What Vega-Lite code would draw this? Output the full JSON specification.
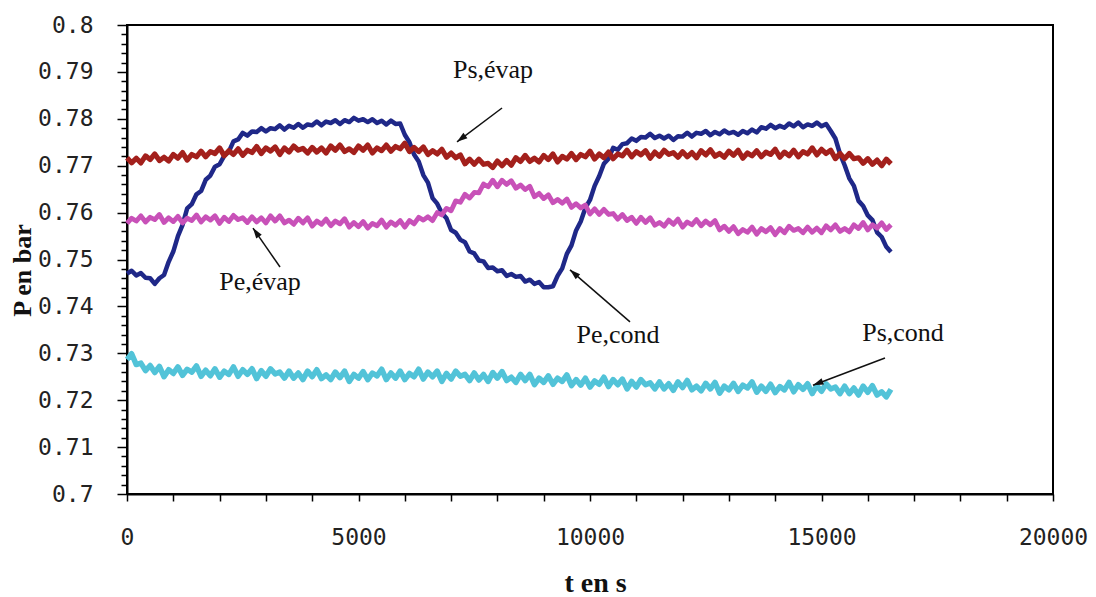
{
"$schema": "https://vega.github.io/schema/vega-lite/v6.json",
"width": 926,
"height": 469,
"autosize": {"type": "none"},
"padding": {"left": 127, "top": 25, "right": 43, "bottom": 103},
"background": "white",
"config": {"view": {"stroke": "#000", "strokeWidth": 2}},
"datasets": {
"series": [
{"t":0,"PeC":0.7470,"PeE":0.7577,"PsE":0.7717,"PsC":0.7287},
{"t":100,"PeC":0.7476,"PeE":0.7588,"PsE":0.7706,"PsC":0.7299},
{"t":200,"PeC":0.7466,"PeE":0.7582,"PsE":0.7716,"PsC":0.7276},
{"t":300,"PeC":0.7471,"PeE":0.7593,"PsE":0.7706,"PsC":0.7279},
{"t":400,"PeC":0.7461,"PeE":0.7580,"PsE":0.7721,"PsC":0.7263},
{"t":500,"PeC":0.7460,"PeE":0.7590,"PsE":0.7713,"PsC":0.7274},
{"t":600,"PeC":0.7448,"PeE":0.7585,"PsE":0.7725,"PsC":0.7259},
{"t":700,"PeC":0.7460,"PeE":0.7596,"PsE":0.7711,"PsC":0.7272},
{"t":800,"PeC":0.7467,"PeE":0.7579,"PsE":0.7718,"PsC":0.7250},
{"t":900,"PeC":0.7495,"PeE":0.7589,"PsE":0.7710,"PsC":0.7265},
{"t":1000,"PeC":0.7517,"PeE":0.7581,"PsE":0.7724,"PsC":0.7257},
{"t":1100,"PeC":0.7550,"PeE":0.7592,"PsE":0.7716,"PsC":0.7271},
{"t":1200,"PeC":0.7574,"PeE":0.7578,"PsE":0.7728,"PsC":0.7253},
{"t":1300,"PeC":0.7609,"PeE":0.7588,"PsE":0.7712,"PsC":0.7266},
{"t":1400,"PeC":0.7618,"PeE":0.7583,"PsE":0.7724,"PsC":0.7260},
{"t":1500,"PeC":0.7639,"PeE":0.7595,"PsE":0.7719,"PsC":0.7273},
{"t":1600,"PeC":0.7646,"PeE":0.7580,"PsE":0.7731,"PsC":0.7251},
{"t":1700,"PeC":0.7670,"PeE":0.7591,"PsE":0.7719,"PsC":0.7264},
{"t":1800,"PeC":0.7679,"PeE":0.7584,"PsE":0.7730,"PsC":0.7252},
{"t":1900,"PeC":0.7698,"PeE":0.7593,"PsE":0.7726,"PsC":0.7267},
{"t":2000,"PeC":0.7703,"PeE":0.7577,"PsE":0.7738,"PsC":0.7249},
{"t":2100,"PeC":0.7721,"PeE":0.7590,"PsE":0.7721,"PsC":0.7262},
{"t":2200,"PeC":0.7730,"PeE":0.7581,"PsE":0.7732,"PsC":0.7255},
{"t":2300,"PeC":0.7752,"PeE":0.7594,"PsE":0.7724,"PsC":0.7271},
{"t":2400,"PeC":0.7756,"PeE":0.7585,"PsE":0.7736,"PsC":0.7251},
{"t":2500,"PeC":0.7770,"PeE":0.7589,"PsE":0.7722,"PsC":0.7265},
{"t":2600,"PeC":0.7764,"PeE":0.7579,"PsE":0.7733,"PsC":0.7255},
{"t":2700,"PeC":0.7773,"PeE":0.7591,"PsE":0.7728,"PsC":0.7267},
{"t":2800,"PeC":0.7772,"PeE":0.7580,"PsE":0.7741,"PsC":0.7246},
{"t":2900,"PeC":0.7780,"PeE":0.7589,"PsE":0.7726,"PsC":0.7263},
{"t":3000,"PeC":0.7773,"PeE":0.7578,"PsE":0.7738,"PsC":0.7251},
{"t":3100,"PeC":0.7780,"PeE":0.7593,"PsE":0.7731,"PsC":0.7267},
{"t":3200,"PeC":0.7778,"PeE":0.7582,"PsE":0.7740,"PsC":0.7256},
{"t":3300,"PeC":0.7786,"PeE":0.7593,"PsE":0.7724,"PsC":0.7260},
{"t":3400,"PeC":0.7777,"PeE":0.7578,"PsE":0.7738,"PsC":0.7247},
{"t":3500,"PeC":0.7785,"PeE":0.7584,"PsE":0.7729,"PsC":0.7262},
{"t":3600,"PeC":0.7781,"PeE":0.7575,"PsE":0.7742,"PsC":0.7247},
{"t":3700,"PeC":0.7789,"PeE":0.7588,"PsE":0.7733,"PsC":0.7258},
{"t":3800,"PeC":0.7781,"PeE":0.7578,"PsE":0.7737,"PsC":0.7244},
{"t":3900,"PeC":0.7788,"PeE":0.7589,"PsE":0.7727,"PsC":0.7262},
{"t":4000,"PeC":0.7786,"PeE":0.7571,"PsE":0.7739,"PsC":0.7250},
{"t":4100,"PeC":0.7794,"PeE":0.7582,"PsE":0.7729,"PsC":0.7265},
{"t":4200,"PeC":0.7786,"PeE":0.7575,"PsE":0.7738,"PsC":0.7246},
{"t":4300,"PeC":0.7794,"PeE":0.7586,"PsE":0.7727,"PsC":0.7254},
{"t":4400,"PeC":0.7791,"PeE":0.7572,"PsE":0.7742,"PsC":0.7244},
{"t":4500,"PeC":0.7797,"PeE":0.7582,"PsE":0.7733,"PsC":0.7260},
{"t":4600,"PeC":0.7789,"PeE":0.7576,"PsE":0.7744,"PsC":0.7248},
{"t":4700,"PeC":0.7797,"PeE":0.7587,"PsE":0.7730,"PsC":0.7262},
{"t":4800,"PeC":0.7793,"PeE":0.7569,"PsE":0.7736,"PsC":0.7240},
{"t":4900,"PeC":0.7802,"PeE":0.7579,"PsE":0.7728,"PsC":0.7255},
{"t":5000,"PeC":0.7796,"PeE":0.7570,"PsE":0.7742,"PsC":0.7247},
{"t":5100,"PeC":0.7799,"PeE":0.7581,"PsE":0.7733,"PsC":0.7261},
{"t":5200,"PeC":0.7793,"PeE":0.7567,"PsE":0.7744,"PsC":0.7244},
{"t":5300,"PeC":0.7799,"PeE":0.7577,"PsE":0.7727,"PsC":0.7258},
{"t":5400,"PeC":0.7791,"PeE":0.7572,"PsE":0.7738,"PsC":0.7252},
{"t":5500,"PeC":0.7796,"PeE":0.7584,"PsE":0.7732,"PsC":0.7266},
{"t":5600,"PeC":0.7788,"PeE":0.7569,"PsE":0.7744,"PsC":0.7244},
{"t":5700,"PeC":0.7796,"PeE":0.7580,"PsE":0.7731,"PsC":0.7258},
{"t":5800,"PeC":0.7789,"PeE":0.7573,"PsE":0.7741,"PsC":0.7247},
{"t":5900,"PeC":0.7790,"PeE":0.7583,"PsE":0.7736,"PsC":0.7262},
{"t":6000,"PeC":0.7766,"PeE":0.7569,"PsE":0.7748,"PsC":0.7244},
{"t":6100,"PeC":0.7750,"PeE":0.7583,"PsE":0.7730,"PsC":0.7257},
{"t":6200,"PeC":0.7724,"PeE":0.7576,"PsE":0.7739,"PsC":0.7250},
{"t":6300,"PeC":0.7709,"PeE":0.7590,"PsE":0.7730,"PsC":0.7266},
{"t":6400,"PeC":0.7680,"PeE":0.7584,"PsE":0.7740,"PsC":0.7245},
{"t":6500,"PeC":0.7664,"PeE":0.7591,"PsE":0.7724,"PsC":0.7260},
{"t":6600,"PeC":0.7631,"PeE":0.7583,"PsE":0.7732,"PsC":0.7250},
{"t":6700,"PeC":0.7619,"PeE":0.7600,"PsE":0.7725,"PsC":0.7262},
{"t":6800,"PeC":0.7599,"PeE":0.7595,"PsE":0.7735,"PsC":0.7240},
{"t":6900,"PeC":0.7588,"PeE":0.7609,"PsE":0.7718,"PsC":0.7257},
{"t":7000,"PeC":0.7563,"PeE":0.7604,"PsE":0.7727,"PsC":0.7245},
{"t":7100,"PeC":0.7557,"PeE":0.7625,"PsE":0.7717,"PsC":0.7262},
{"t":7200,"PeC":0.7542,"PeE":0.7622,"PsE":0.7723,"PsC":0.7251},
{"t":7300,"PeC":0.7537,"PeE":0.7639,"PsE":0.7704,"PsC":0.7255},
{"t":7400,"PeC":0.7517,"PeE":0.7631,"PsE":0.7714,"PsC":0.7242},
{"t":7500,"PeC":0.7513,"PeE":0.7643,"PsE":0.7703,"PsC":0.7258},
{"t":7600,"PeC":0.7498,"PeE":0.7642,"PsE":0.7714,"PsC":0.7243},
{"t":7700,"PeC":0.7496,"PeE":0.7661,"PsE":0.7703,"PsC":0.7255},
{"t":7800,"PeC":0.7482,"PeE":0.7655,"PsE":0.7705,"PsC":0.7240},
{"t":7900,"PeC":0.7483,"PeE":0.7669,"PsE":0.7696,"PsC":0.7259},
{"t":8000,"PeC":0.7475,"PeE":0.7655,"PsE":0.7710,"PsC":0.7247},
{"t":8100,"PeC":0.7477,"PeE":0.7669,"PsE":0.7700,"PsC":0.7261},
{"t":8200,"PeC":0.7465,"PeE":0.7660,"PsE":0.7711,"PsC":0.7242},
{"t":8300,"PeC":0.7469,"PeE":0.7668,"PsE":0.7701,"PsC":0.7249},
{"t":8400,"PeC":0.7463,"PeE":0.7652,"PsE":0.7717,"PsC":0.7238},
{"t":8500,"PeC":0.7465,"PeE":0.7659,"PsE":0.7709,"PsC":0.7255},
{"t":8600,"PeC":0.7453,"PeE":0.7649,"PsE":0.7722,"PsC":0.7242},
{"t":8700,"PeC":0.7457,"PeE":0.7656,"PsE":0.7709,"PsC":0.7255},
{"t":8800,"PeC":0.7448,"PeE":0.7634,"PsE":0.7716,"PsC":0.7233},
{"t":8900,"PeC":0.7452,"PeE":0.7641,"PsE":0.7708,"PsC":0.7247},
{"t":9000,"PeC":0.7441,"PeE":0.7630,"PsE":0.7722,"PsC":0.7238},
{"t":9100,"PeC":0.7441,"PeE":0.7638,"PsE":0.7713,"PsC":0.7252},
{"t":9200,"PeC":0.7443,"PeE":0.7621,"PsE":0.7725,"PsC":0.7234},
{"t":9300,"PeC":0.7465,"PeE":0.7628,"PsE":0.7708,"PsC":0.7247},
{"t":9400,"PeC":0.7481,"PeE":0.7620,"PsE":0.7720,"PsC":0.7240},
{"t":9500,"PeC":0.7512,"PeE":0.7629,"PsE":0.7714,"PsC":0.7254},
{"t":9600,"PeC":0.7530,"PeE":0.7611,"PsE":0.7726,"PsC":0.7231},
{"t":9700,"PeC":0.7562,"PeE":0.7619,"PsE":0.7713,"PsC":0.7244},
{"t":9800,"PeC":0.7581,"PeE":0.7610,"PsE":0.7724,"PsC":0.7232},
{"t":9900,"PeC":0.7610,"PeE":0.7616,"PsE":0.7719,"PsC":0.7247},
{"t":10000,"PeC":0.7627,"PeE":0.7597,"PsE":0.7731,"PsC":0.7228},
{"t":10100,"PeC":0.7657,"PeE":0.7608,"PsE":0.7714,"PsC":0.7241},
{"t":10200,"PeC":0.7678,"PeE":0.7596,"PsE":0.7725,"PsC":0.7234},
{"t":10300,"PeC":0.7704,"PeE":0.7607,"PsE":0.7717,"PsC":0.7249},
{"t":10400,"PeC":0.7715,"PeE":0.7596,"PsE":0.7729,"PsC":0.7229},
{"t":10500,"PeC":0.7738,"PeE":0.7598,"PsE":0.7715,"PsC":0.7244},
{"t":10600,"PeC":0.7734,"PeE":0.7586,"PsE":0.7725,"PsC":0.7233},
{"t":10700,"PeC":0.7746,"PeE":0.7596,"PsE":0.7721,"PsC":0.7245},
{"t":10800,"PeC":0.7748,"PeE":0.7583,"PsE":0.7733,"PsC":0.7224},
{"t":10900,"PeC":0.7758,"PeE":0.7590,"PsE":0.7719,"PsC":0.7240},
{"t":11000,"PeC":0.7753,"PeE":0.7577,"PsE":0.7730,"PsC":0.7228},
{"t":11100,"PeC":0.7761,"PeE":0.7590,"PsE":0.7723,"PsC":0.7244},
{"t":11200,"PeC":0.7760,"PeE":0.7579,"PsE":0.7732,"PsC":0.7233},
{"t":11300,"PeC":0.7768,"PeE":0.7589,"PsE":0.7716,"PsC":0.7237},
{"t":11400,"PeC":0.7759,"PeE":0.7573,"PsE":0.7729,"PsC":0.7224},
{"t":11500,"PeC":0.7764,"PeE":0.7579,"PsE":0.7720,"PsC":0.7239},
{"t":11600,"PeC":0.7758,"PeE":0.7571,"PsE":0.7733,"PsC":0.7224},
{"t":11700,"PeC":0.7764,"PeE":0.7584,"PsE":0.7724,"PsC":0.7235},
{"t":11800,"PeC":0.7755,"PeE":0.7575,"PsE":0.7728,"PsC":0.7221},
{"t":11900,"PeC":0.7763,"PeE":0.7586,"PsE":0.7718,"PsC":0.7239},
{"t":12000,"PeC":0.7762,"PeE":0.7569,"PsE":0.7730,"PsC":0.7227},
{"t":12100,"PeC":0.7770,"PeE":0.7580,"PsE":0.7719,"PsC":0.7242},
{"t":12200,"PeC":0.7762,"PeE":0.7574,"PsE":0.7728,"PsC":0.7222},
{"t":12300,"PeC":0.7770,"PeE":0.7585,"PsE":0.7717,"PsC":0.7230},
{"t":12400,"PeC":0.7768,"PeE":0.7572,"PsE":0.7732,"PsC":0.7220},
{"t":12500,"PeC":0.7774,"PeE":0.7582,"PsE":0.7723,"PsC":0.7236},
{"t":12600,"PeC":0.7765,"PeE":0.7574,"PsE":0.7734,"PsC":0.7224},
{"t":12700,"PeC":0.7772,"PeE":0.7583,"PsE":0.7720,"PsC":0.7238},
{"t":12800,"PeC":0.7767,"PeE":0.7563,"PsE":0.7726,"PsC":0.7215},
{"t":12900,"PeC":0.7775,"PeE":0.7571,"PsE":0.7718,"PsC":0.7230},
{"t":13000,"PeC":0.7769,"PeE":0.7560,"PsE":0.7731,"PsC":0.7222},
{"t":13100,"PeC":0.7772,"PeE":0.7570,"PsE":0.7722,"PsC":0.7236},
{"t":13200,"PeC":0.7766,"PeE":0.7555,"PsE":0.7733,"PsC":0.7219},
{"t":13300,"PeC":0.7774,"PeE":0.7564,"PsE":0.7716,"PsC":0.7232},
{"t":13400,"PeC":0.7769,"PeE":0.7558,"PsE":0.7727,"PsC":0.7226},
{"t":13500,"PeC":0.7777,"PeE":0.7569,"PsE":0.7721,"PsC":0.7239},
{"t":13600,"PeC":0.7771,"PeE":0.7554,"PsE":0.7732,"PsC":0.7217},
{"t":13700,"PeC":0.7782,"PeE":0.7566,"PsE":0.7719,"PsC":0.7230},
{"t":13800,"PeC":0.7779,"PeE":0.7559,"PsE":0.7729,"PsC":0.7219},
{"t":13900,"PeC":0.7787,"PeE":0.7568,"PsE":0.7724,"PsC":0.7234},
{"t":14000,"PeC":0.7780,"PeE":0.7553,"PsE":0.7735,"PsC":0.7216},
{"t":14100,"PeC":0.7785,"PeE":0.7566,"PsE":0.7718,"PsC":0.7229},
{"t":14200,"PeC":0.7781,"PeE":0.7557,"PsE":0.7729,"PsC":0.7222},
{"t":14300,"PeC":0.7790,"PeE":0.7571,"PsE":0.7721,"PsC":0.7238},
{"t":14400,"PeC":0.7784,"PeE":0.7562,"PsE":0.7733,"PsC":0.7218},
{"t":14500,"PeC":0.7792,"PeE":0.7566,"PsE":0.7719,"PsC":0.7233},
{"t":14600,"PeC":0.7782,"PeE":0.7557,"PsE":0.7730,"PsC":0.7223},
{"t":14700,"PeC":0.7788,"PeE":0.7569,"PsE":0.7725,"PsC":0.7235},
{"t":14800,"PeC":0.7785,"PeE":0.7558,"PsE":0.7738,"PsC":0.7214},
{"t":14900,"PeC":0.7792,"PeE":0.7567,"PsE":0.7723,"PsC":0.7231},
{"t":15000,"PeC":0.7784,"PeE":0.7557,"PsE":0.7735,"PsC":0.7219},
{"t":15100,"PeC":0.7789,"PeE":0.7572,"PsE":0.7726,"PsC":0.7235},
{"t":15200,"PeC":0.7774,"PeE":0.7563,"PsE":0.7733,"PsC":0.7224},
{"t":15300,"PeC":0.7758,"PeE":0.7574,"PsE":0.7715,"PsC":0.7228},
{"t":15400,"PeC":0.7725,"PeE":0.7560,"PsE":0.7726,"PsC":0.7214},
{"t":15500,"PeC":0.7701,"PeE":0.7566,"PsE":0.7715,"PsC":0.7230},
{"t":15600,"PeC":0.7673,"PeE":0.7559,"PsE":0.7726,"PsC":0.7214},
{"t":15700,"PeC":0.7657,"PeE":0.7574,"PsE":0.7715,"PsC":0.7226},
{"t":15800,"PeC":0.7625,"PeE":0.7566,"PsE":0.7717,"PsC":0.7211},
{"t":15900,"PeC":0.7614,"PeE":0.7579,"PsE":0.7705,"PsC":0.7230},
{"t":16000,"PeC":0.7594,"PeE":0.7563,"PsE":0.7715,"PsC":0.7217},
{"t":16100,"PeC":0.7584,"PeE":0.7574,"PsE":0.7703,"PsC":0.7231},
{"t":16200,"PeC":0.7558,"PeE":0.7567,"PsE":0.7712,"PsC":0.7211},
{"t":16300,"PeC":0.7548,"PeE":0.7578,"PsE":0.7700,"PsC":0.7218},
{"t":16400,"PeC":0.7527,"PeE":0.7564,"PsE":0.7714,"PsC":0.7207},
{"t":16500,"PeC":0.7516,"PeE":0.7574,"PsE":0.7704,"PsC":0.7223}
],
"labels": [
{"label":"Ps,évap","t":7905,"P":0.7904},
{"label":"Pe,évap","t":2873,"P":0.7452},
{"label":"Pe,cond","t":10605,"P":0.7339},
{"label":"Ps,cond","t":16760,"P":0.7343}
],
"arrows": [
{"name":"PsE","x1":8100,"y1":0.7823,"x2":7128,"y2":0.7751},
{"name":"PeE","x1":3305,"y1":0.7484,"x2":2721,"y2":0.7567},
{"name":"PeC","x1":10864,"y1":0.7367,"x2":9568,"y2":0.7478},
{"name":"PsC","x1":16371,"y1":0.7290,"x2":14816,"y2":0.7232}
]
},
"layer": [
{
"data": {"name": "series"},
"transform": [{"fold": ["PeC", "PeE", "PsE", "PsC"], "as": ["series", "P"]}],
"mark": {"type": "line", "strokeJoin": "round"},
"encoding": {
"x": {"field": "t", "type": "quantitative",
"scale": {"domain": [0, 20000], "nice": false, "zero": false},
"axis": {"title": "t en s", "values": [0,1000,2000,3000,4000,5000,6000,7000,8000,9000,10000,11000,12000,13000,14000,15000,16000,17000,18000,19000,20000],
"tickCount": 100,
"format": "d", "labelExpr": "datum.value % 5000 === 0 ? datum.label : ''",
"labelOverlap": false, "labelFlush": false, "labelBound": false,
"grid": false, "domainColor": "#000", "domainWidth": 2, "tickColor": "#000", "tickWidth": 1.5, "tickSize": 7,
"labelFont": "DejaVu Sans Mono", "labelFontSize": 23, "labelColor": "#222", "labelPadding": 25,
"titleFont": "Liberation Serif", "titleFontWeight": "bold", "titleFontSize": 28, "titleColor": "#111",
"titleX": 468, "titleY": 89, "titleAlign": "center", "titleBaseline": "middle"}},
"y": {"field": "P", "type": "quantitative",
"scale": {"domain": [0.7, 0.8], "nice": false, "zero": false},
"axis": {"title": "P en bar",
"values": [0.7,0.702,0.704,0.706,0.708,0.71,0.712,0.714,0.716,0.718,0.72,0.722,0.724,0.726,0.728,0.73,0.732,0.734,0.736,0.738,0.74,0.742,0.744,0.746,0.748,0.75,0.752,0.754,0.756,0.758,0.76,0.762,0.764,0.766,0.768,0.77,0.772,0.774,0.776,0.778,0.78,0.782,0.784,0.786,0.788,0.79,0.792,0.794,0.796,0.798,0.8],
"tickCount": 200,
"labelExpr": "round(datum.value*500) % 5 === 0 ? format(datum.value, '.2~f') : ''",
"labelOverlap": false, "labelBound": false, "labelFlush": false,
"grid": false, "domainColor": "#000", "domainWidth": 2, "tickColor": "#000", "tickWidth": 1.5,
"tickSize": {"condition": {"test": "round(datum.value*500) % 5 === 0", "value": 10}, "value": 6},
"labelFont": "DejaVu Sans Mono", "labelFontSize": 23, "labelColor": "#222", "labelPadding": 24,
"titleFont": "Liberation Serif", "titleFontWeight": "bold", "titleFontSize": 26, "titleColor": "#111",
"titleAngle": -90, "titleX": -105, "titleY": 245, "titleAlign": "center", "titleBaseline": "middle"}},
"color": {"field": "series", "type": "nominal",
"scale": {"domain": ["PeC", "PeE", "PsE", "PsC"], "range": ["#1f2888", "#c851b8", "#a3201c", "#52c3d8"]},
"legend": null},
"strokeWidth": {"field": "series", "type": "nominal",
"scale": {"domain": ["PeC", "PeE", "PsE", "PsC"], "range": [4.5, 5.5, 5.5, 7]},
"legend": null}
}
},
{
"data": {"name": "arrows"},
"mark": {"type": "rule", "color": "#111", "strokeWidth": 1.5},
"encoding": {
"x": {"field": "x1", "type": "quantitative"},
"y": {"field": "y1", "type": "quantitative"},
"x2": {"field": "x2"},
"y2": {"field": "y2"}
}
},
{
"data": {"name": "arrows"},
"transform": [{"filter": "datum.name === 'PsE'"}],
"mark": {"type": "point", "shape": "M0,0L-0.42,1.3L0.42,1.3Z", "angle": 233, "size": 260, "filled": true, "color": "#111", "opacity": 1, "strokeWidth": 0},
"encoding": {"x": {"field": "x2", "type": "quantitative"}, "y": {"field": "y2", "type": "quantitative"}}
},
{
"data": {"name": "arrows"},
"transform": [{"filter": "datum.name === 'PeE'"}],
"mark": {"type": "point", "shape": "M0,0L-0.42,1.3L0.42,1.3Z", "angle": 325, "size": 260, "filled": true, "color": "#111", "opacity": 1, "strokeWidth": 0},
"encoding": {"x": {"field": "x2", "type": "quantitative"}, "y": {"field": "y2", "type": "quantitative"}}
},
{
"data": {"name": "arrows"},
"transform": [{"filter": "datum.name === 'PeC'"}],
"mark": {"type": "point", "shape": "M0,0L-0.42,1.3L0.42,1.3Z", "angle": 311, "size": 260, "filled": true, "color": "#111", "opacity": 1, "strokeWidth": 0},
"encoding": {"x": {"field": "x2", "type": "quantitative"}, "y": {"field": "y2", "type": "quantitative"}}
},
{
"data": {"name": "arrows"},
"transform": [{"filter": "datum.name === 'PsC'"}],
"mark": {"type": "point", "shape": "M0,0L-0.42,1.3L0.42,1.3Z", "angle": 249, "size": 260, "filled": true, "color": "#111", "opacity": 1, "strokeWidth": 0},
"encoding": {"x": {"field": "x2", "type": "quantitative"}, "y": {"field": "y2", "type": "quantitative"}}
},
{
"data": {"name": "labels"},
"mark": {"type": "text", "font": "Liberation Serif", "fontSize": 26, "color": "#111", "align": "center", "baseline": "middle"},
"encoding": {
"x": {"field": "t", "type": "quantitative"},
"y": {"field": "P", "type": "quantitative"},
"text": {"field": "label"}
}
}
]
}
